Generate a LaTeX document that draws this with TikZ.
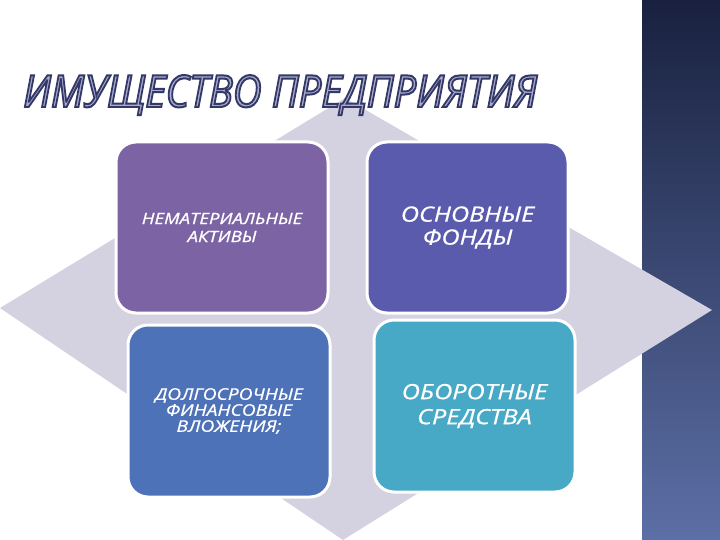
\documentclass[tikz,border=0pt]{standalone}
\usepackage{fontspec}
\setmainfont{Open Sans}
\newfontfamily\boxfont[FakeStretch=1.2, FakeBold=0.8]{Open Sans}

\definecolor{stripTop}{RGB}{25,33,63}
\definecolor{stripBot}{RGB}{92,111,166}
\definecolor{diamondGray}{RGB}{212,210,225}
\definecolor{boxPurple}{RGB}{124,99,164}
\definecolor{boxIndigo}{RGB}{91,91,173}
\definecolor{boxBlue}{RGB}{78,114,184}
\definecolor{boxTeal}{RGB}{71,169,197}
\definecolor{titleFill}{RGB}{170,172,206}

% outlined letters: fill and stroke
\newcommand{\outlined}[1]{\special{pdf:code 2 Tr 0.45 w 0.2 0.22 0.4 RG}#1\special{pdf:code 0 Tr}}

\begin{document}
\begin{tikzpicture}[x=1pt, y=-1pt, align=center,
    part/.style={draw=white, line width=3pt, rounded corners=20pt,
        text=white, inner sep=0pt}]
    \useasboundingbox (0,0) rectangle (720,540);

    % Dark strip on the right
    \shade[top color=stripTop, bottom color=stripBot] (642,0) rectangle (720,540);

    % Background diamond
    \fill[diamondGray] (0,308) -- (345,98) -- (712,310) -- (343,540) -- cycle;

    % Title
    \node[anchor=base west, inner sep=0pt, text=titleFill] (title) at (23,107)
        {\resizebox{514pt}{32pt}{\itshape\outlined{ИМУЩЕСТВО ПРЕДПРИЯТИЯ}}};

    % The four parts of the property
    \node[part, fill=boxPurple, minimum width=212pt, minimum height=171pt,
        font=\boxfont\itshape\fontsize{15.5}{18}\selectfont] (intangible) at (222,227.5)
        {НЕМАТЕРИАЛЬНЫЕ\\АКТИВЫ};
    \node[part, fill=boxIndigo, minimum width=201pt, minimum height=171pt,
        font=\boxfont\itshape\fontsize{21}{23}\selectfont] (fixed) at (467.5,227.5)
        {ОСНОВНЫЕ\\ФОНДЫ};
    \node[part, fill=boxBlue, minimum width=202pt, minimum height=172pt,
        font=\boxfont\itshape\fontsize{16}{16}\selectfont] (investments) at (229,411)
        {ДОЛГОСРОЧНЫЕ\\ФИНАНСОВЫЕ\\ВЛОЖЕНИЯ;};
    \node[part, fill=boxTeal, minimum width=201pt, minimum height=172pt,
        font=\boxfont\itshape\fontsize{21}{25}\selectfont] (current) at (474.5,406)
        {ОБОРОТНЫЕ\\СРЕДСТВА};
\end{tikzpicture}
\end{document}
